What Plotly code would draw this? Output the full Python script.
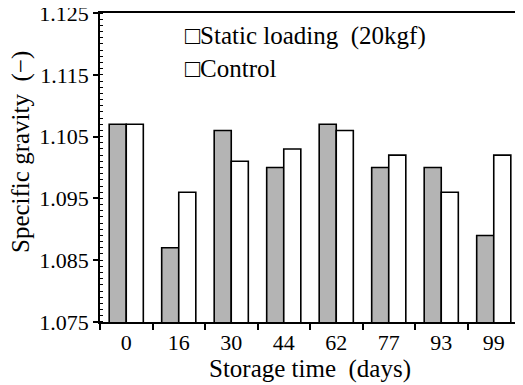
import plotly.graph_objects as go

days = ["0", "16", "30", "44", "62", "77", "93", "99"]
static_loading = [1.107, 1.087, 1.106, 1.100, 1.107, 1.100, 1.100, 1.089]
control = [1.107, 1.096, 1.101, 1.103, 1.106, 1.102, 1.096, 1.102]
series_names = ["Static loading\u2002(20kgf)", "Control"]
y_ticks = [1.075, 1.085, 1.095, 1.105, 1.115, 1.125]
x_title = "Storage time\u2002(days)"
y_title = "Specific gravity\u2002(\u2212)"

SERIF = "Liberation Serif"

fig = go.Figure()
fig.add_trace(go.Bar(
    x=days, y=static_loading, name=series_names[0], showlegend=False,
    marker=dict(color="#b4b4b4", line=dict(color="black", width=1.6)),
))
fig.add_trace(go.Bar(
    x=days, y=control, name=series_names[1], showlegend=False,
    marker=dict(color="white", line=dict(color="black", width=1.6)),
))

# legend written as text lines (open square + series name)
for i, nm in enumerate(series_names):
    fig.add_annotation(
        text="\u25a1" + nm, xref="paper", yref="paper",
        x=(175 - 92) / 420, y=(314 - 28 - 32 * i) / 309, xanchor="left", yanchor="middle",
        showarrow=False, font=dict(family=SERIF, size=25, color="black"),
    )

fig.add_annotation(
    text=y_title, textangle=-90, xref="paper", yref="paper",
    x=(13 - 92) / 420, y=(314 - 144) / 309, xanchor="center", yanchor="middle",
    showarrow=False, font=dict(family=SERIF, size=25, color="black"),
)

fig.update_layout(
    width=515, height=377,
    margin=dict(l=92, r=3, t=5, b=63, autoexpand=False),
    plot_bgcolor="white", paper_bgcolor="white",
    barmode="group", bargap=0.35, bargroupgap=0,
    showlegend=False,
    xaxis=dict(
        type="category", showline=True, linecolor="black", linewidth=1.5,
        ticks="outside", tickson="boundaries", ticklen=6, tickwidth=1.5,
        tickcolor="black", mirror=True, automargin=False,
        tickfont=dict(family=SERIF, size=22, color="black"),
        title=dict(text=x_title, font=dict(family=SERIF, size=25, color="black"), standoff=0),
    ),
    yaxis=dict(
        range=[1.07499, 1.12501], tickvals=y_ticks, tickformat=".3f", ticklabeloverflow="allow",
        showline=True, linecolor="black", linewidth=1.5, mirror=True,
        ticks="outside", ticklen=5, tickwidth=1.5, tickcolor="black",
        showgrid=False, zeroline=False, automargin=False,
        minor=dict(dtick=0.001, tick0=1.075, ticks="inside", ticklen=3, tickwidth=1, tickcolor="black", showgrid=False),
        tickfont=dict(family=SERIF, size=22, color="black"),
    ),
)

fig.write_html("out.html")
